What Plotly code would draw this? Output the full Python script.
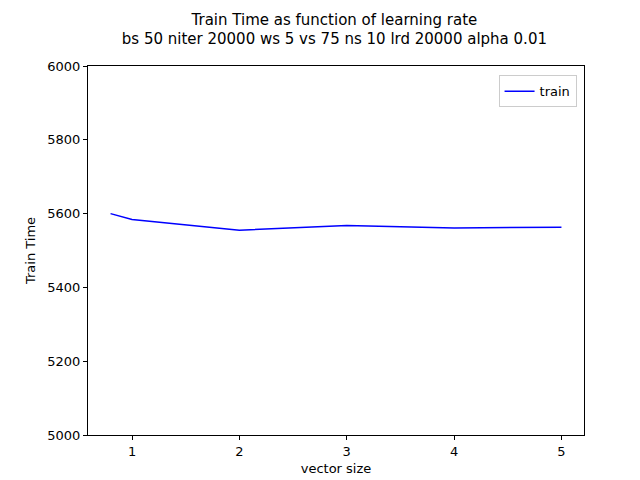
import plotly.graph_objects as go

vector_size = [0.8, 1, 2, 3, 4, 5]
train_time = [5600, 5584, 5555, 5568, 5561, 5563]
x_ticks = [1, 2, 3, 4, 5]
y_ticks = [5000, 5200, 5400, 5600, 5800, 6000]

fig = go.Figure()
fig.add_trace(go.Scatter(x=vector_size, y=train_time, mode="lines", name="train",
                         line=dict(color="blue", width=1.5)))

axis_style = dict(showgrid=False, zeroline=False, showline=True, linecolor="black",
                  mirror=True, ticks="outside", ticklen=4, tickcolor="black",
                  tickfont=dict(size=13, color="black"), automargin=False)

fig.update_layout(
    width=640, height=480,
    margin=dict(l=80, r=64, t=58, b=53),
    plot_bgcolor="white", paper_bgcolor="white",
    font=dict(family="DejaVu Sans", color="black"),
    title=dict(text="Train Time as function of learning rate<br>bs 50 niter 20000 ws 5 vs 75 ns 10 lrd 20000 alpha 0.01",
               x=0.51, xanchor="center", y=0.965, yanchor="top", font=dict(size=15),
               automargin=False),
    xaxis=dict(range=[0.59, 5.21], tickvals=x_ticks,
               title=dict(text="vector size", font=dict(size=13), standoff=6), **axis_style),
    yaxis=dict(range=[5000, 6000], tickvals=y_ticks,
               title=dict(text="Train Time", font=dict(size=13), standoff=8), **axis_style),
    showlegend=True,
    legend=dict(x=0.985, y=0.975, xanchor="right", yanchor="top", bordercolor="#cccccc",
                borderwidth=1, font=dict(size=13), bgcolor="white"),
)

fig.write_html("out.html")
